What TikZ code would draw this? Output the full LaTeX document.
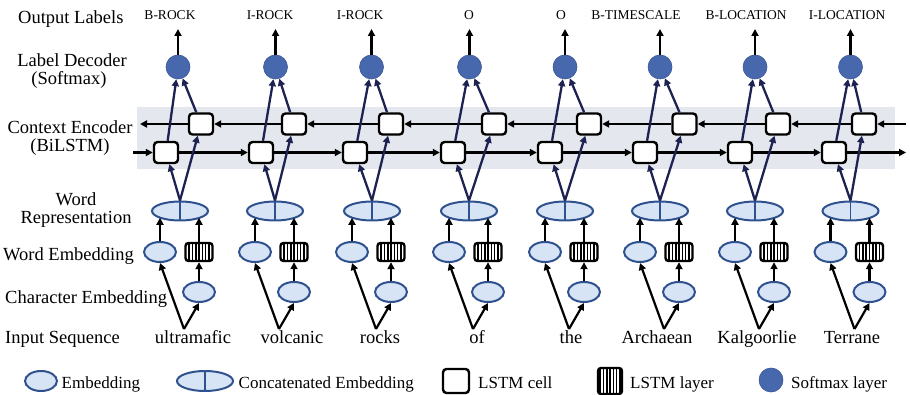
\documentclass[tikz,border=0pt]{standalone}
\usepackage{fontspec}
\setmainfont{Liberation Serif}
\usetikzlibrary{arrows.meta,shapes.geometric}

\definecolor{bandgray}{RGB}{228,231,237}
\definecolor{embfill}{RGB}{214,228,246}
\definecolor{embdraw}{RGB}{47,82,143}
\definecolor{softfill}{RGB}{72,104,174}
\definecolor{softdraw}{RGB}{58,86,150}
\definecolor{navy}{RGB}{30,34,82}

\begin{document}
\begin{tikzpicture}[x=1pt,y=-1pt,
  emb/.style={ellipse, draw=embdraw, fill=embfill, line width=2pt,
    minimum width=32pt, minimum height=20pt, inner sep=0pt},
  catemb/.style={emb, minimum width=56pt, minimum height=19pt},
  divider/.style={draw=embdraw, line width=1.6pt},
  lstmcell/.style={draw=black, fill=white, line width=2.4pt, rounded corners=3.5pt,
    minimum width=24pt, minimum height=21pt, inner sep=0pt},
  lstmlayer/.style={draw=black, fill=white, line width=2.4pt, rounded corners=3pt,
    minimum width=27pt, minimum height=18pt, inner sep=0pt,
    path picture={\foreach \s in {-3,...,3}{
      \draw[line width=1.6pt] ([xshift=\s*3.3pt]path picture bounding box.north)
        -- ([xshift=\s*3.3pt]path picture bounding box.south);}}},
  softmax/.style={circle, fill=softfill, draw=softdraw, line width=0.6pt,
    minimum size=24pt, inner sep=0pt},
  flow/.style={-{Triangle[length=7pt,width=7pt]}, line width=2.2pt, draw=black},
  navyflow/.style={-{Triangle[length=7pt,width=7pt]}, line width=2.3pt, draw=navy},
  rowlabel/.style={font=\fontsize{18.5pt}{20pt}\selectfont, inner sep=0pt},
  tag/.style={font=\fontsize{13.5pt}{15pt}\selectfont, inner sep=0pt, anchor=base},
  wordtext/.style={font=\fontsize{18.5pt}{20pt}\selectfont, inner sep=0pt, anchor=base},
  legtext/.style={font=\fontsize{17pt}{19pt}\selectfont, inner sep=0pt, anchor=base west}
]
\useasboundingbox (0,0) rectangle (910,395);

% shaded BiLSTM band
\fill[bandgray] (137,107) rectangle (895,169);

% row labels on the left
\node[rowlabel, anchor=base west] (rlOut) at (18,24) {Output Labels};
\node[rowlabel, anchor=base] (rlDecA) at (72,67) {Label Decoder};
\node[rowlabel, anchor=base] (rlDecB) at (69,85) {(Softmax)};
\node[rowlabel, anchor=base] (rlEncA) at (70,133.5) {Context Encoder};
\node[rowlabel, anchor=base] (rlEncB) at (70,152) {(BiLSTM)};
\node[rowlabel, anchor=base] (rlRepA) at (76,206) {Word};
\node[rowlabel, anchor=base] (rlRepB) at (76,223.5) {Representation};
\node[rowlabel, anchor=base west] (rlEmb) at (3,261) {Word Embedding};
\node[rowlabel, anchor=base west] (rlChar) at (5,303) {Character Embedding};
\node[rowlabel, anchor=base west] (rlIn) at (5,343) {Input Sequence};

% one column per token
\foreach \i/\cx/\cir/\fx/\bx/\lx/\lab/\tx/\word in {
  0/180/178/166/201/170/B-ROCK/193/ultramafic,
  1/275/275.5/261/294/270/I-ROCK/292/volcanic,
  2/372/371.5/355/391/360/I-ROCK/380/rocks,
  3/469/469.5/453/494/469/O/477/of,
  4/565/565/550/589/561/O/571/the,
  5/660/660/645/684.5/636/B-TIMESCALE/657/Archaean,
  6/755/755/740/778/746/B-LOCATION/757/Kalgoorlie,
  7/850.5/850.5/834/864/847/I-LOCATION/852/Terrane}{
  \node[wordtext] (w\i) at (\tx,343) {\word};
  \coordinate (ap\i) at (\cx+4,329);
  \node[emb] (ce\i) at (\cx+19,292) {};
  \node[emb] (we\i) at (\cx-20,252) {};
  \node[lstmlayer] (ll\i) at (\cx+19,252) {};
  \node[catemb] (cat\i) at (\cx,211) {};
  \draw[divider] (cat\i.north) -- (cat\i.south);
  \node[softmax] (sm\i) at (\cir,67) {};
  \coordinate (top\i) at (\cir,29);
  \node[tag] (out\i) at (\lx,20) {\lab};
  % character and word inputs
  \draw[flow] (ap\i) -- (we\i.south);
  \draw[flow] (ap\i) -- (ce\i.south);
  \draw[flow] (ce\i.north) -- (ll\i.south);
  \draw[flow] (we\i.north) -- (we\i.north |- cat\i.197);
  \draw[flow] (ll\i.north) -- (ll\i.north |- cat\i.343);
  % decoder output
  \draw[flow] (sm\i) -- (top\i);
}

% LSTM cells of both directions
\foreach \i/\fx/\bx in {0/166/201,1/261/294,2/355/391,3/453/494,
                        4/550/589,5/645/684.5,6/740/778,7/834/864}{
  \node[lstmcell] (fw\i) at (\fx,152.5) {};
  \node[lstmcell] (bw\i) at (\bx,124) {};
}

% recurrent connections
\coordinate (fin) at (133,152.5);
\coordinate (fout) at (906,152.5);
\coordinate (bin) at (906,124);
\coordinate (bout) at (140,124);
\draw[flow] (fin) -- (fw0.west);
\draw[flow] (fw7.east) -- (fout);
\draw[flow] (bin) -- (bw7.east);
\draw[flow] (bw0.west) -- (bout);
\foreach \i [evaluate=\i as \j using int(\i+1)] in {0,...,6}{
  \draw[flow] (fw\i.east) -- (fw\j.west);
  \draw[flow] (bw\j.west) -- (bw\i.east);
}

% representation into the BiLSTM and BiLSTM into the decoder
\foreach \i in {0,...,7}{
  \draw[navyflow] (cat\i.north) -- (fw\i);
  \draw[navyflow] (cat\i.north) -- (bw\i);
  \draw[navyflow] (fw\i) -- (sm\i);
  \draw[navyflow] (bw\i) -- (sm\i);
}

% legend
\node[emb] (legE) at (41,381) {};
\node[legtext] (legEt) at (61.5,388) {Embedding};
\node[catemb, minimum height=20pt] (legC) at (205,381) {};
\draw[divider] (legC.north) -- (legC.south);
\node[legtext] (legCt) at (238.5,388) {Concatenated Embedding};
\node[lstmcell, minimum width=26pt, minimum height=24pt] (legL) at (456,381) {};
\node[legtext] (legLt) at (478,388) {LSTM cell};
\node[lstmlayer, minimum width=24pt, minimum height=26pt] (legLL) at (610,381) {};
\node[legtext] (legLLt) at (630,388) {LSTM layer};
\node[softmax] (legS) at (771,380) {};
\node[legtext] (legSt) at (791,388) {Softmax layer};
\end{tikzpicture}
\end{document}
